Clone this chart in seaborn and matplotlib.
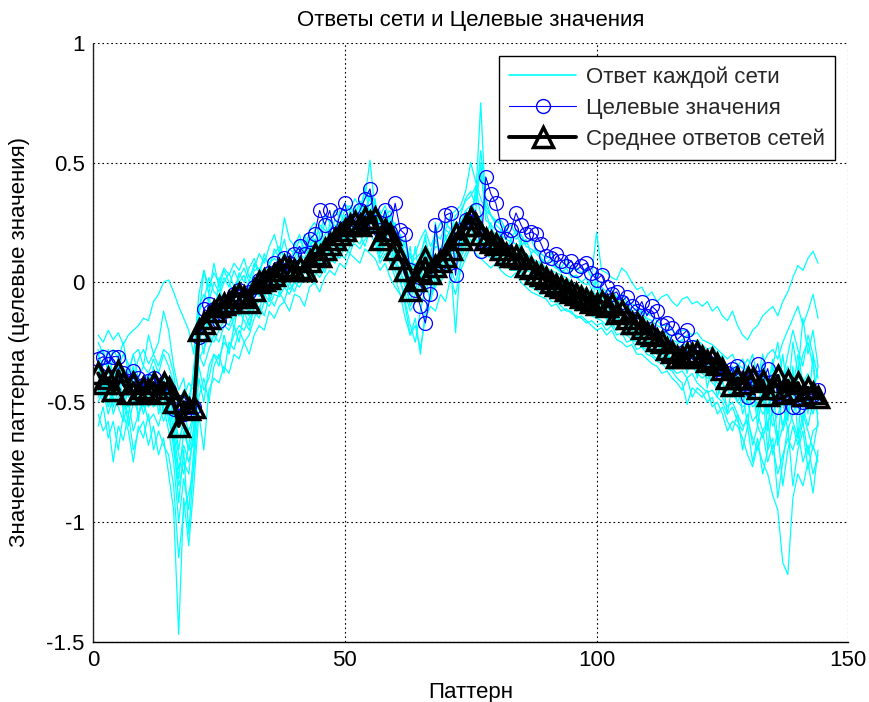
import numpy as np
import pandas as pd
import matplotlib
matplotlib.use("Agg")
import matplotlib.pyplot as plt
from matplotlib.lines import Line2D
import seaborn as sns

# ---------------- data ----------------
patterns = list(range(1, 145))

target_values = [
    -0.32, -0.31, -0.34, -0.31, -0.31, -0.38, -0.41, -0.37, -0.40, -0.43, -0.41, -0.40,
    -0.44, -0.42, -0.45, -0.53, -0.50, -0.55, -0.52, -0.52, -0.23, -0.11, -0.09, -0.11,
    -0.16, -0.12, -0.09, -0.05, -0.03, -0.06, -0.04, -0.02, 0.01, 0.02, 0.04, 0.08,
    0.06, 0.10, 0.08, 0.12, 0.15, 0.12, 0.18, 0.20, 0.30, 0.24, 0.30, 0.20,
    0.28, 0.33, 0.23, 0.26, 0.30, 0.35, 0.39, 0.25, 0.22, 0.30, 0.21, 0.33,
    0.22, 0.20, 0.05, -0.03, -0.10, -0.17, -0.05, 0.24, 0.08, 0.28, 0.29, 0.03,
    0.22, 0.26, 0.27, 0.30, 0.13, 0.44, 0.37, 0.33, 0.24, 0.18, 0.22, 0.29,
    0.24, 0.20, 0.21, 0.20, 0.16, 0.11, 0.10, 0.12, 0.09, 0.07, 0.09, 0.05,
    0.07, 0.08, 0.04, 0.01, 0.03, -0.02, -0.05, -0.04, -0.08, -0.06, -0.10, -0.12,
    -0.08, -0.14, -0.10, -0.12, -0.18, -0.17, -0.19, -0.24, -0.22, -0.20, -0.27, -0.30,
    -0.32, -0.33, -0.35, -0.36, -0.38, -0.38, -0.36, -0.35, -0.42, -0.48, -0.40, -0.34,
    -0.42, -0.36, -0.46, -0.52, -0.44, -0.48, -0.52, -0.52, -0.50, -0.49, -0.47, -0.45,
]

mean_values = [
    -0.38, -0.42, -0.40, -0.45, -0.37, -0.42, -0.46, -0.42, -0.46, -0.44, -0.45, -0.42,
    -0.46, -0.42, -0.44, -0.50, -0.60, -0.50, -0.53, -0.52, -0.20, -0.17, -0.15, -0.12,
    -0.10, -0.09, -0.08, -0.06, -0.05, -0.06, -0.08, -0.03, 0.00, 0.01, 0.02, 0.03,
    0.05, 0.07, 0.06, 0.05, 0.06, 0.05, 0.09, 0.12, 0.11, 0.14, 0.16, 0.18,
    0.20, 0.22, 0.24, 0.25, 0.24, 0.27, 0.25, 0.27, 0.18, 0.22, 0.20, 0.14,
    0.10, 0.05, -0.03, 0.01, 0.05, 0.10, 0.04, 0.07, 0.09, 0.11, 0.14, 0.20,
    0.18, 0.24, 0.27, 0.24, 0.20, 0.18, 0.17, 0.16, 0.14, 0.12, 0.11, 0.11,
    0.10, 0.07, 0.06, 0.04, 0.03, 0.02, 0.00, -0.01, -0.02, -0.03, -0.04, -0.05,
    -0.06, -0.07, -0.08, -0.09, -0.08, -0.10, -0.09, -0.13, -0.12, -0.15, -0.17, -0.17,
    -0.19, -0.21, -0.22, -0.24, -0.25, -0.28, -0.29, -0.31, -0.31, -0.30, -0.30, -0.29,
    -0.31, -0.33, -0.32, -0.34, -0.36, -0.40, -0.43, -0.40, -0.42, -0.40, -0.40, -0.44,
    -0.41, -0.47, -0.44, -0.39, -0.46, -0.41, -0.45, -0.42, -0.47, -0.44, -0.46, -0.48,
]

net_1 = [
    -0.22, -0.25, -0.20, -0.24, -0.21, -0.26, -0.22, -0.20, -0.18, -0.15, -0.16, -0.08,
    -0.05, 0.00, 0.01, -0.04, -0.10, -0.15, -0.20, -0.30, -0.05, 0.05, -0.02, 0.04,
    0.00, 0.06, 0.03, 0.08, 0.05, 0.10, 0.02, 0.06, 0.12, 0.08, 0.15, 0.20,
    0.12, 0.27, 0.18, 0.15, 0.20, 0.12, 0.22, 0.25, 0.20, 0.28, 0.25, 0.30,
    0.27, 0.33, 0.30, 0.35, 0.31, 0.38, 0.34, 0.32, 0.25, 0.28, 0.30, 0.22,
    0.20, 0.15, 0.10, 0.12, 0.18, 0.22, 0.15, 0.20, 0.25, 0.22, 0.28, 0.30,
    0.32, 0.38, 0.50, 0.42, 0.35, 0.30, 0.28, 0.25, 0.26, 0.22, 0.24, 0.20,
    0.20, 0.16, 0.18, 0.13, 0.12, 0.10, 0.12, 0.08, 0.06, 0.10, 0.05, 0.06,
    0.04, 0.06, 0.02, 0.21, 0.05, 0.04, 0.02, 0.01, 0.06, 0.04, 0.00, -0.03,
    -0.02, -0.06, -0.04, -0.08, -0.06, -0.05, -0.08, -0.10, -0.07, -0.06, -0.09, -0.08,
    -0.10, -0.08, -0.12, -0.10, -0.14, -0.16, -0.12, -0.18, -0.22, -0.24, -0.20, -0.18,
    -0.14, -0.12, -0.10, -0.14, -0.08, -0.04, 0.02, 0.07, 0.05, 0.10, 0.13, 0.08,
]
net_2 = [
    -0.55, -0.62, -0.58, -0.75, -0.60, -0.66, -0.55, -0.70, -0.62, -0.58, -0.68, -0.60,
    -0.72, -0.65, -0.80, -0.95, -1.47, -0.90, -1.10, -0.85, -0.55, -0.70, -0.45, -0.40,
    -0.42, -0.35, -0.38, -0.30, -0.32, -0.25, -0.30, -0.22, -0.18, -0.20, -0.12, -0.15,
    -0.10, -0.08, -0.12, -0.05, -0.06, -0.10, -0.02, 0.00, -0.04, 0.02, 0.05, 0.03,
    0.08, 0.06, 0.12, 0.10, 0.08, 0.14, 0.12, 0.10, 0.05, 0.08, 0.02, -0.02,
    -0.05, -0.15, -0.22, -0.18, -0.28, -0.15, -0.10, -0.12, -0.05, -0.08, 0.02, -0.05,
    0.05, 0.10, 0.15, 0.12, 0.10, 0.08, 0.06, 0.08, 0.05, 0.03, 0.02, 0.04,
    0.00, -0.02, -0.04, -0.05, -0.06, -0.07, -0.10, -0.09, -0.12, -0.11, -0.13, -0.14,
    -0.15, -0.17, -0.16, -0.18, -0.17, -0.20, -0.18, -0.22, -0.21, -0.25, -0.24, -0.28,
    -0.27, -0.30, -0.31, -0.33, -0.34, -0.36, -0.37, -0.40, -0.42, -0.51, -0.44, -0.46,
    -0.48, -0.45, -0.52, -0.50, -0.55, -0.62, -0.58, -0.60, -0.65, -0.72, -0.77, -0.68,
    -0.75, -0.80, -0.89, -0.95, -1.17, -1.22, -0.90, -0.80, -0.85, -0.75, -0.88, -0.70,
]
net_3 = [
    -0.35, -0.40, -0.45, -0.38, -0.42, -0.48, -0.40, -0.45, -0.50, -0.42, -0.38, -0.45,
    -0.40, -0.48, -0.45, -0.55, -0.65, -0.60, -0.70, -0.62, -0.25, -0.18, -0.10, -0.15,
    -0.12, -0.05, -0.10, -0.02, -0.08, -0.04, -0.10, 0.00, -0.03, 0.02, 0.00, 0.05,
    0.03, 0.08, 0.05, 0.10, 0.02, 0.08, 0.12, 0.10, 0.15, 0.12, 0.18, 0.22,
    0.18, 0.25, 0.28, 0.22, 0.30, 0.35, 0.51, 0.30, 0.22, 0.25, 0.28, 0.20,
    0.15, 0.12, 0.05, 0.08, 0.02, 0.10, 0.05, 0.12, 0.08, 0.15, 0.18, 0.10,
    0.22, 0.28, 0.30, 0.35, 0.75, 0.30, 0.22, 0.20, 0.18, 0.15, 0.16, 0.12,
    0.14, 0.10, 0.08, 0.06, 0.05, 0.04, 0.02, 0.00, -0.01, -0.03, -0.02, -0.04,
    -0.05, -0.07, -0.06, -0.10, -0.08, -0.12, -0.10, -0.14, -0.12, -0.16, -0.15, -0.18,
    -0.20, -0.22, -0.20, -0.25, -0.27, -0.26, -0.30, -0.32, -0.30, -0.28, -0.32, -0.30,
    -0.35, -0.32, -0.36, -0.38, -0.35, -0.42, -0.45, -0.40, -0.55, -0.48, -0.42, -0.60,
    -0.45, -0.70, -0.50, -0.45, -0.62, -0.55, -0.48, -0.40, -0.30, -0.25, -0.35, -0.50,
]
net_4 = [
    -0.45, -0.50, -0.42, -0.55, -0.48, -0.45, -0.60, -0.50, -0.45, -0.55, -0.48, -0.52,
    -0.50, -0.58, -0.52, -0.70, -0.85, -0.75, -0.80, -0.60, -0.30, -0.35, -0.28, -0.22,
    -0.25, -0.18, -0.20, -0.15, -0.12, -0.16, -0.20, -0.10, -0.08, -0.05, -0.08, -0.02,
    0.00, 0.02, -0.03, 0.00, 0.04, 0.00, 0.05, 0.08, 0.05, 0.10, 0.08, 0.12,
    0.15, 0.14, 0.20, 0.18, 0.16, 0.22, 0.20, 0.24, 0.15, 0.18, 0.12, 0.08,
    0.02, -0.10, -0.22, -0.15, -0.30, -0.12, -0.05, -0.02, 0.02, 0.05, 0.08, -0.21,
    0.10, 0.15, 0.20, 0.18, 0.15, 0.14, 0.12, 0.10, 0.09, 0.08, 0.06, 0.07,
    0.05, 0.03, 0.02, 0.00, -0.01, -0.02, -0.04, -0.03, -0.06, -0.05, -0.08, -0.09,
    -0.10, -0.12, -0.11, -0.13, -0.14, -0.15, -0.16, -0.18, -0.19, -0.20, -0.22, -0.23,
    -0.25, -0.26, -0.28, -0.30, -0.29, -0.32, -0.33, -0.35, -0.34, -0.36, -0.35, -0.38,
    -0.40, -0.38, -0.42, -0.44, -0.48, -0.52, -0.50, -0.55, -0.60, -0.58, -0.65, -0.70,
    -0.62, -0.75, -0.68, -0.80, -0.72, -0.65, -0.70, -0.62, -0.75, -0.68, -0.80, -0.72,
]
net_5 = [
    -0.30, -0.35, -0.28, -0.40, -0.32, -0.36, -0.38, -0.30, -0.40, -0.35, -0.38, -0.32,
    -0.38, -0.30, -0.35, -0.42, -0.50, -0.45, -0.48, -0.40, -0.10, -0.05, -0.08, 0.00,
    -0.04, 0.02, -0.02, 0.05, 0.00, 0.03, -0.03, 0.05, 0.06, 0.04, 0.08, 0.10,
    0.08, 0.12, 0.10, 0.08, 0.12, 0.10, 0.15, 0.18, 0.14, 0.20, 0.22, 0.24,
    0.22, 0.28, 0.26, 0.30, 0.28, 0.32, 0.30, 0.33, 0.24, 0.28, 0.25, 0.20,
    0.18, 0.12, 0.08, 0.10, 0.12, 0.18, 0.10, 0.15, 0.14, 0.18, 0.22, 0.25,
    0.25, 0.30, 0.32, 0.30, 0.50, 0.26, 0.24, 0.22, 0.20, 0.18, 0.17, 0.16,
    0.15, 0.12, 0.10, 0.09, 0.08, 0.06, 0.05, 0.04, 0.03, 0.02, 0.00, -0.01,
    -0.02, -0.03, -0.04, -0.05, -0.04, -0.06, -0.05, -0.08, -0.07, -0.10, -0.12, -0.11,
    -0.13, -0.15, -0.16, -0.18, -0.19, -0.22, -0.24, -0.25, -0.24, -0.22, -0.25, -0.24,
    -0.26, -0.28, -0.27, -0.30, -0.32, -0.35, -0.38, -0.34, -0.36, -0.32, -0.35, -0.38,
    -0.34, -0.30, -0.28, -0.32, -0.25, -0.20, -0.15, -0.10, -0.18, -0.12, -0.05, -0.15,
]
net_6 = [
    -0.50, -0.45, -0.55, -0.48, -0.52, -0.58, -0.50, -0.62, -0.55, -0.50, -0.58, -0.55,
    -0.60, -0.52, -0.62, -0.75, -1.00, -0.82, -0.95, -0.70, -0.40, -0.50, -0.35, -0.30,
    -0.32, -0.25, -0.28, -0.22, -0.18, -0.20, -0.15, -0.12, -0.15, -0.08, -0.10, -0.05,
    -0.06, -0.02, -0.05, 0.00, -0.02, 0.02, 0.00, 0.05, 0.02, 0.06, 0.10, 0.08,
    0.12, 0.10, 0.15, 0.16, 0.14, 0.18, 0.20, 0.17, 0.08, 0.12, 0.10, 0.05,
    0.00, -0.05, -0.12, -0.08, -0.05, 0.02, -0.08, 0.00, 0.03, 0.06, 0.10, 0.05,
    0.12, 0.18, 0.22, 0.18, 0.16, 0.15, 0.12, 0.13, 0.10, 0.08, 0.07, 0.06,
    0.05, 0.02, 0.00, -0.02, -0.03, -0.05, -0.06, -0.07, -0.08, -0.09, -0.10, -0.12,
    -0.11, -0.13, -0.14, -0.15, -0.16, -0.18, -0.17, -0.20, -0.19, -0.22, -0.24, -0.25,
    -0.27, -0.28, -0.30, -0.32, -0.31, -0.34, -0.36, -0.38, -0.37, -0.40, -0.38, -0.42,
    -0.44, -0.46, -0.45, -0.48, -0.50, -0.55, -0.52, -0.58, -0.62, -0.55, -0.68, -0.60,
    -0.65, -0.58, -0.72, -0.62, -0.85, -0.70, -0.60, -0.68, -0.58, -0.72, -0.62, -0.60,
]
net_7 = [
    -0.40, -0.38, -0.45, -0.42, -0.35, -0.40, -0.48, -0.40, -0.42, -0.48, -0.40, -0.38,
    -0.45, -0.40, -0.48, -0.55, -0.70, -0.55, -0.62, -0.55, -0.18, -0.22, -0.15, -0.08,
    -0.10, -0.12, -0.05, -0.08, -0.02, -0.06, -0.05, -0.02, 0.02, -0.01, 0.03, 0.00,
    0.06, 0.04, 0.08, 0.05, 0.08, 0.06, 0.10, 0.14, 0.10, 0.16, 0.14, 0.18,
    0.20, 0.22, 0.20, 0.26, 0.24, 0.28, 0.26, 0.30, 0.18, 0.22, 0.20, 0.15,
    0.10, 0.08, 0.00, 0.04, 0.06, 0.12, 0.02, 0.08, 0.10, 0.12, 0.15, 0.18,
    0.18, 0.24, 0.28, 0.25, 0.22, 0.20, 0.18, 0.17, 0.15, 0.13, 0.12, 0.10,
    0.11, 0.08, 0.06, 0.05, 0.03, 0.03, 0.01, 0.00, -0.02, -0.02, -0.05, -0.04,
    -0.06, -0.06, -0.09, -0.08, -0.09, -0.10, -0.11, -0.12, -0.13, -0.15, -0.16, -0.18,
    -0.18, -0.20, -0.23, -0.24, -0.26, -0.27, -0.28, -0.30, -0.32, -0.30, -0.31, -0.30,
    -0.32, -0.34, -0.33, -0.36, -0.38, -0.40, -0.42, -0.45, -0.40, -0.44, -0.48, -0.42,
    -0.50, -0.45, -0.55, -0.48, -0.60, -0.50, -0.45, -0.52, -0.58, -0.48, -0.55, -0.45,
]
net_8 = [
    -0.28, -0.45, -0.35, -0.50, -0.30, -0.55, -0.42, -0.35, -0.58, -0.40, -0.52, -0.35,
    -0.55, -0.45, -0.58, -0.65, -0.92, -0.70, -1.05, -0.75, -0.20, -0.30, -0.05, -0.18,
    0.02, -0.15, -0.08, -0.20, -0.05, -0.10, -0.12, 0.02, -0.06, 0.05, -0.04, 0.08,
    -0.02, 0.12, 0.00, 0.10, 0.15, 0.05, 0.18, 0.08, 0.20, 0.10, 0.25, 0.15,
    0.25, 0.18, 0.30, 0.20, 0.32, 0.25, 0.38, 0.22, 0.30, 0.15, 0.25, 0.10,
    0.20, 0.05, 0.15, -0.05, 0.10, 0.20, 0.00, 0.25, 0.05, 0.20, 0.10, 0.25,
    0.15, 0.30, 0.22, 0.40, 0.28, 0.20, 0.25, 0.15, 0.22, 0.12, 0.18, 0.08,
    0.18, 0.05, 0.12, 0.02, 0.10, -0.02, 0.05, -0.04, 0.02, -0.08, 0.00, -0.10,
    -0.02, -0.12, -0.04, -0.15, -0.06, -0.16, -0.08, -0.18, -0.12, -0.22, -0.14, -0.24,
    -0.18, -0.26, -0.20, -0.30, -0.24, -0.32, -0.28, -0.36, -0.30, -0.38, -0.28, -0.40,
    -0.30, -0.44, -0.35, -0.48, -0.40, -0.55, -0.42, -0.50, -0.45, -0.60, -0.40, -0.55,
    -0.38, -0.62, -0.40, -0.68, -0.42, -0.58, -0.35, -0.65, -0.40, -0.55, -0.30, -0.60,
]
net_9 = [
    -0.25, -0.30, -0.35, -0.28, -0.32, -0.25, -0.38, -0.30, -0.28, -0.35, -0.22, -0.30,
    -0.25, -0.12, -0.20, -0.35, -0.45, -0.40, -0.55, -0.35, -0.15, 0.05, -0.05, 0.08,
    -0.02, 0.05, 0.00, -0.05, 0.04, 0.00, 0.06, 0.10, 0.04, 0.12, 0.06, 0.14,
    0.10, 0.18, 0.08, 0.14, 0.10, 0.20, 0.12, 0.22, 0.16, 0.25, 0.18, 0.20,
    0.30, 0.24, 0.28, 0.32, 0.26, 0.40, 0.28, 0.35, 0.20, 0.30, 0.22, 0.25,
    0.12, 0.18, 0.02, 0.15, -0.02, 0.15, 0.08, 0.18, 0.12, 0.22, 0.20, 0.15,
    0.28, 0.35, 0.38, 0.32, 0.55, 0.35, 0.28, 0.24, 0.22, 0.20, 0.18, 0.22,
    0.15, 0.18, 0.12, 0.14, 0.10, 0.08, 0.10, 0.06, 0.04, 0.06, 0.02, 0.03,
    0.00, 0.02, -0.03, 0.00, -0.05, -0.04, -0.08, -0.06, -0.10, -0.08, -0.12, -0.14,
    -0.12, -0.16, -0.18, -0.20, -0.22, -0.20, -0.25, -0.26, -0.24, -0.28, -0.25, -0.30,
    -0.28, -0.30, -0.32, -0.35, -0.30, -0.38, -0.35, -0.42, -0.38, -0.35, -0.45, -0.40,
    -0.30, -0.42, -0.35, -0.25, -0.40, -0.30, -0.20, -0.28, -0.35, -0.22, -0.30, -0.40,
]
net_10 = [
    -0.60, -0.52, -0.65, -0.58, -0.70, -0.55, -0.62, -0.75, -0.60, -0.65, -0.55, -0.70,
    -0.62, -0.68, -0.72, -0.85, -1.15, -0.95, -0.88, -0.78, -0.48, -0.40, -0.50, -0.35,
    -0.30, -0.38, -0.25, -0.28, -0.20, -0.25, -0.22, -0.15, -0.10, -0.14, -0.06, -0.10,
    -0.04, -0.08, 0.00, -0.04, 0.02, 0.00, 0.04, 0.02, 0.08, 0.04, 0.10, 0.12,
    0.10, 0.15, 0.12, 0.18, 0.20, 0.15, 0.22, 0.20, 0.10, 0.14, 0.08, 0.02,
    -0.05, -0.08, -0.18, -0.25, -0.12, -0.02, -0.06, 0.02, 0.00, 0.04, 0.06, 0.00,
    0.08, 0.12, 0.18, 0.15, 0.20, 0.12, 0.10, 0.11, 0.08, 0.07, 0.05, 0.05,
    0.04, 0.00, -0.02, -0.03, -0.05, -0.04, -0.08, -0.08, -0.10, -0.12, -0.12, -0.15,
    -0.14, -0.16, -0.18, -0.20, -0.19, -0.22, -0.20, -0.24, -0.25, -0.27, -0.26, -0.30,
    -0.30, -0.32, -0.34, -0.35, -0.38, -0.37, -0.40, -0.42, -0.45, -0.40, -0.48, -0.44,
    -0.46, -0.50, -0.48, -0.55, -0.52, -0.58, -0.62, -0.55, -0.70, -0.60, -0.75, -0.65,
    -0.80, -0.70, -0.65, -0.90, -0.75, -0.60, -0.85, -0.70, -0.62, -0.78, -0.68, -0.75,
]
net_11 = [
    -0.42, -0.48, -0.40, -0.52, -0.45, -0.50, -0.55, -0.45, -0.50, -0.44, -0.52, -0.48,
    -0.42, -0.55, -0.50, -0.62, -0.78, -0.68, -0.75, -0.65, -0.28, -0.12, -0.20, -0.10,
    -0.16, -0.08, -0.12, -0.10, -0.14, -0.02, -0.08, -0.06, 0.00, -0.04, 0.04, 0.02,
    0.02, 0.06, 0.02, 0.08, 0.05, 0.04, 0.08, 0.06, 0.12, 0.08, 0.14, 0.16,
    0.16, 0.20, 0.22, 0.20, 0.24, 0.22, 0.28, 0.24, 0.14, 0.20, 0.16, 0.12,
    0.08, 0.02, -0.05, 0.02, 0.08, 0.06, 0.00, 0.05, 0.06, 0.10, 0.12, 0.15,
    0.15, 0.20, 0.24, 0.22, 0.28, 0.18, 0.15, 0.14, 0.12, 0.10, 0.10, 0.09,
    0.08, 0.06, 0.05, 0.02, 0.02, 0.00, -0.02, -0.02, -0.04, -0.05, -0.06, -0.07,
    -0.08, -0.09, -0.10, -0.10, -0.12, -0.13, -0.12, -0.15, -0.16, -0.18, -0.19, -0.20,
    -0.22, -0.24, -0.25, -0.26, -0.28, -0.30, -0.32, -0.33, -0.34, -0.33, -0.35, -0.34,
    -0.36, -0.38, -0.37, -0.40, -0.42, -0.45, -0.48, -0.44, -0.50, -0.46, -0.52, -0.50,
    -0.55, -0.52, -0.60, -0.55, -0.50, -0.62, -0.55, -0.48, -0.52, -0.60, -0.50, -0.55,
]
net_12 = [
    -0.35, -0.42, -0.50, -0.45, -0.40, -0.52, -0.45, -0.38, -0.48, -0.52, -0.45, -0.50,
    -0.48, -0.52, -0.40, -0.60, -0.72, -0.80, -0.68, -0.55, -0.35, -0.45, -0.40, -0.30,
    -0.35, -0.22, -0.30, -0.18, -0.25, -0.12, -0.18, -0.10, -0.12, -0.02, -0.06, 0.00,
    -0.05, 0.04, 0.00, 0.06, 0.00, 0.08, 0.05, 0.12, 0.08, 0.15, 0.12, 0.18,
    0.18, 0.22, 0.18, 0.25, 0.22, 0.30, 0.24, 0.28, 0.12, 0.18, 0.14, 0.10,
    0.05, -0.02, -0.08, 0.00, 0.05, 0.08, 0.02, 0.10, 0.08, 0.15, 0.12, 0.20,
    0.20, 0.22, 0.26, 0.28, 0.25, 0.22, 0.20, 0.18, 0.16, 0.14, 0.15, 0.12,
    0.12, 0.10, 0.08, 0.07, 0.06, 0.04, 0.02, 0.02, 0.00, -0.01, -0.03, -0.02,
    -0.04, -0.05, -0.06, -0.07, -0.06, -0.08, -0.08, -0.10, -0.11, -0.12, -0.14, -0.15,
    -0.16, -0.18, -0.20, -0.22, -0.24, -0.25, -0.27, -0.28, -0.26, -0.30, -0.28, -0.32,
    -0.30, -0.35, -0.33, -0.38, -0.40, -0.36, -0.42, -0.38, -0.45, -0.50, -0.38, -0.45,
    -0.40, -0.55, -0.35, -0.45, -0.30, -0.48, -0.25, -0.38, -0.15, -0.30, -0.20, -0.35,
]
net_13 = [
    -0.48, -0.42, -0.52, -0.46, -0.44, -0.50, -0.52, -0.48, -0.55, -0.50, -0.46, -0.52,
    -0.50, -0.46, -0.55, -0.65, -0.82, -0.62, -0.70, -0.68, -0.32, -0.28, -0.22, -0.25,
    -0.20, -0.16, -0.18, -0.12, -0.10, -0.12, -0.14, -0.06, -0.04, -0.06, 0.00, -0.02,
    0.02, 0.00, 0.04, 0.02, 0.00, 0.04, 0.06, 0.08, 0.06, 0.10, 0.12, 0.14,
    0.14, 0.18, 0.20, 0.20, 0.22, 0.24, 0.22, 0.22, 0.12, 0.16, 0.15, 0.08,
    0.04, 0.00, -0.10, -0.05, 0.00, 0.05, -0.02, 0.04, 0.05, 0.08, 0.12, 0.12,
    0.14, 0.20, 0.24, 0.20, 0.18, 0.16, 0.14, 0.14, 0.12, 0.10, 0.09, 0.08,
    0.07, 0.05, 0.04, 0.02, 0.00, -0.01, -0.03, -0.04, -0.05, -0.06, -0.08, -0.08,
    -0.09, -0.10, -0.12, 0.05, -0.12, -0.14, -0.13, -0.16, -0.17, -0.19, -0.20, -0.22,
    -0.23, -0.25, -0.26, -0.28, -0.30, -0.31, -0.32, -0.35, -0.36, -0.34, -0.36, -0.35,
    -0.38, -0.40, -0.40, -0.42, -0.45, -0.48, -0.46, -0.50, -0.52, -0.50, -0.58, -0.55,
    -0.62, -0.58, -0.55, -0.68, -0.60, -0.52, -0.58, -0.65, -0.55, -0.62, -0.70, -0.58,
]
net_14 = [
    -0.30, -0.28, -0.38, -0.32, -0.36, -0.30, -0.34, -0.40, -0.32, -0.28, -0.34, -0.30,
    -0.35, -0.28, -0.30, -0.38, -0.55, -0.48, -0.42, -0.45, -0.12, -0.08, 0.02, -0.04,
    -0.06, 0.00, 0.04, -0.02, 0.02, 0.06, 0.00, 0.08, 0.04, 0.10, 0.08, 0.12,
    0.15, 0.10, 0.14, 0.12, 0.18, 0.14, 0.20, 0.16, 0.24, 0.22, 0.20, 0.26,
    0.24, 0.30, 0.32, 0.28, 0.34, 0.30, 0.36, 0.30, 0.28, 0.32, 0.26, 0.18,
    0.15, 0.10, 0.12, 0.05, 0.08, 0.15, 0.12, 0.20, 0.18, 0.25, 0.22, 0.28,
    0.30, 0.34, 0.36, 0.40, 0.45, 0.32, 0.28, 0.26, 0.24, 0.22, 0.20, 0.18,
    0.20, 0.15, 0.14, 0.12, 0.10, 0.08, 0.07, 0.06, 0.05, 0.04, 0.03, 0.02,
    0.00, -0.01, 0.01, -0.03, -0.02, -0.04, -0.03, -0.06, -0.05, -0.08, -0.09, -0.10,
    -0.12, -0.13, -0.14, -0.16, -0.18, -0.18, -0.20, -0.22, -0.20, -0.20, -0.22, -0.21,
    -0.24, -0.25, -0.26, -0.28, -0.30, -0.32, -0.30, -0.35, -0.32, -0.36, -0.30, -0.40,
    -0.35, -0.45, -0.32, -0.50, -0.40, -0.35, -0.45, -0.30, -0.42, -0.38, -0.48, -0.35,
]

network_outputs = [net_1, net_2, net_3, net_4, net_5, net_6, net_7,
                   net_8, net_9, net_10, net_11, net_12, net_13, net_14]

title_text = "Ответы сети и Целевые значения"
x_label = "Паттерн"
y_label = "Значение паттерна (целевые значения)"
legend_labels = ["Ответ каждой сети", "Целевые значения", "Среднее ответов сетей"]
x_ticks = [0, 50, 100, 150]
y_ticks = [-1.5, -1, -0.5, 0, 0.5, 1]
y_tick_labels = ["-1.5", "-1", "-0.5", "0", "0.5", "1"]

# ---------------- tables ----------------
n_pat = len(patterns)
nets_df = pd.DataFrame({
    "pattern": np.tile(patterns, len(network_outputs)),
    "value": np.concatenate([np.asarray(n[:n_pat], dtype=float) for n in network_outputs]),
    "net": np.repeat(np.arange(len(network_outputs)), n_pat),
})
target_df = pd.DataFrame({"pattern": patterns, "value": target_values[:n_pat]})
mean_df = pd.DataFrame({"pattern": patterns, "value": mean_values[:n_pat]})

# ---------------- style ----------------
sns.set_theme(style="white")
plt.rcParams["font.family"] = ["Liberation Sans", "DejaVu Sans"]
FS = 16

fig = plt.figure(figsize=(8.70, 7.02), dpi=100)
ax = fig.add_axes([0.107, 0.086, 0.868, 0.853])

sns.lineplot(data=nets_df, x="pattern", y="value", units="net", estimator=None,
             color="#00FFFF", linewidth=0.9, ax=ax, legend=False)
sns.lineplot(data=target_df, x="pattern", y="value", estimator=None,
             color="#0000FF", linewidth=0.8, marker="o", markersize=10,
             markerfacecolor="none", markeredgecolor="#0000FF", markeredgewidth=0.9,
             ax=ax, legend=False)
sns.lineplot(data=mean_df, x="pattern", y="value", estimator=None,
             color="black", linewidth=2.8, marker="^", markersize=14,
             markerfacecolor="none", markeredgecolor="black", markeredgewidth=2.5,
             ax=ax, legend=False)

ax.set_xlim(0, 150)
ax.set_ylim(-1.5, 1)
ax.set_xticks(x_ticks)
ax.set_xticklabels([str(t) for t in x_ticks])
ax.set_yticks(y_ticks)
ax.set_yticklabels(y_tick_labels)
ax.tick_params(axis="both", labelsize=FS, direction="in", length=4, width=0.8,
               pad=6, colors="black")
ax.grid(True, color="black", linestyle=(0, (1.5, 2.5)), linewidth=0.8)
for side in ["top", "right"]:
    ax.spines[side].set_visible(False)
ax.spines["bottom"].set_color("black")
ax.spines["bottom"].set_linewidth(1.0)
ax.spines["left"].set_color("#222222")
ax.spines["left"].set_linewidth(1.0)
ax.spines["left"].set_linestyle((0, (2, 1)))

ax.set_title(title_text, fontsize=FS, pad=12, color="black")
ax.set_xlabel(x_label, fontsize=FS, labelpad=8, color="black")
ax.set_ylabel(y_label, fontsize=FS, labelpad=12, color="black")

handles = [
    Line2D([], [], color="#00FFFF", linewidth=1.2),
    Line2D([], [], color="#0000FF", linewidth=0.8, marker="o", markersize=10,
           markerfacecolor="none", markeredgecolor="#0000FF"),
    Line2D([], [], color="black", linewidth=2.8, marker="^", markersize=14,
           markerfacecolor="none", markeredgewidth=2.5),
]
leg = ax.legend(handles, legend_labels, loc="upper right", fontsize=FS,
                frameon=True, fancybox=False, edgecolor="black",
                borderaxespad=0.6, handlelength=3.0, labelspacing=0.45,
                borderpad=0.45, handletextpad=0.45)
leg.get_frame().set_linewidth(1.0)
leg.get_frame().set_facecolor("white")
leg.get_frame().set_alpha(1.0)

fig.savefig("out.png", dpi=100, facecolor="white")
